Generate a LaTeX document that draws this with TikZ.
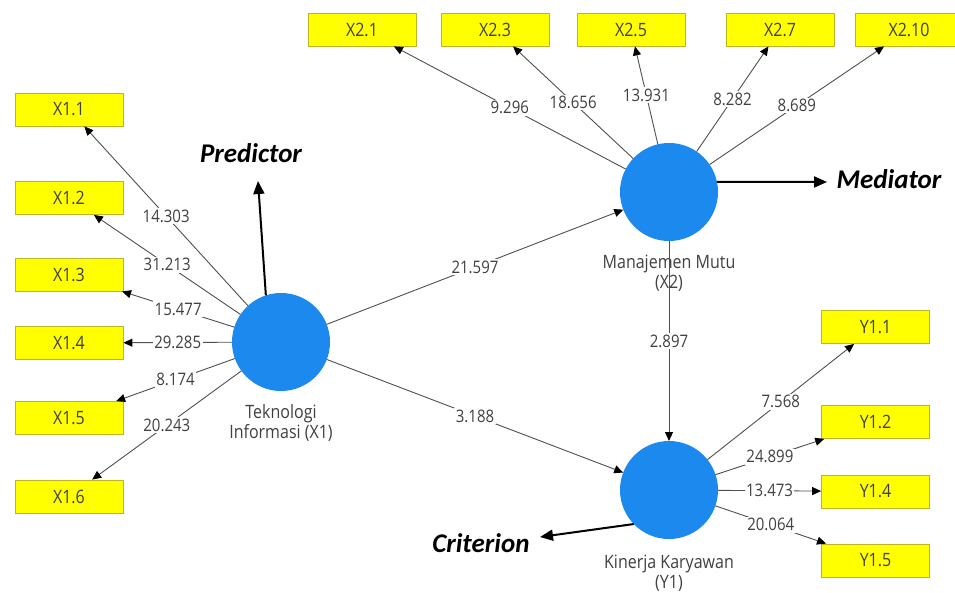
\documentclass[tikz,border=0pt]{standalone}
\usepackage{fontspec}
\setmainfont{Open Sans}
\newfontfamily\annfont{Carlito}
\usetikzlibrary{arrows.meta}

\definecolor{lvblue}{RGB}{28,137,238}
\definecolor{indyellow}{RGB}{255,255,0}
\definecolor{indborder}{RGB}{190,180,40}
\definecolor{txtgray}{RGB}{64,64,64}
\definecolor{linegray}{RGB}{80,80,80}

% slightly tall lettering
\newcommand{\tallt}[1]{\scalebox{1}[1.15]{#1}}

\begin{document}
\begin{tikzpicture}[x=1pt,y=-1pt,
  latent/.style={circle, fill=lvblue, minimum size=98pt, inner sep=0pt, outer sep=0pt},
  indicator/.style={rectangle, fill=indyellow, draw=indborder, line width=0.8pt,
    minimum width=108pt, minimum height=33pt, inner sep=0pt, text=txtgray,
    font=\fontsize{16}{18}\selectfont},
  loading/.style={draw=linegray, line width=0.9pt,
    -{Triangle[length=9pt,width=8pt,color=black]}},
  weight/.style={fill=white, inner sep=1.5pt, text=txtgray,
    font=\fontsize{15}{17}\selectfont},
  lvname/.style={text=txtgray, align=center, font=\fontsize{16}{20}\selectfont},
  role/.style={text=black, font=\annfont\fontsize{27}{30}\selectfont\bfseries\itshape},
  rolearrow/.style={draw=black, line width=2pt, -{Triangle[length=13pt,width=11pt]}}
]
\useasboundingbox (0,0) rectangle (955,593);
\clip (0,0) rectangle (955,593);
\fill[white] (0,0) rectangle (955,593);

% latent variables
\node[latent] (x1) at (281,342) {};
\node[latent] (x2) at (669,192) {};
\node[latent] (y1) at (669,490) {};

\node[lvname] (x1name) at (281,423) {\tallt{Teknologi}\\\tallt{Informasi (X1)}};
\node[lvname] (x2name) at (669,273) {\tallt{Manajemen Mutu}\\\tallt{(X2)}};
\node[lvname] (y1name) at (669,573) {\tallt{Kinerja Karyawan}\\\tallt{(Y1)}};

% indicators of X1
\node[indicator] (x11) at (69,109.5) {\tallt{X1.1}};
\node[indicator] (x12) at (69,198) {\tallt{X1.2}};
\node[indicator] (x13) at (69,274.5) {\tallt{X1.3}};
\node[indicator] (x14) at (69,343) {\tallt{X1.4}};
\node[indicator] (x15) at (69,418) {\tallt{X1.5}};
\node[indicator] (x16) at (69,496.5) {\tallt{X1.6}};

% indicators of X2
\node[indicator] (x21) at (362,29.5) {\tallt{X2.1}};
\node[indicator] (x23) at (495,29.5) {\tallt{X2.3}};
\node[indicator] (x25) at (631,29.5) {\tallt{X2.5}};
\node[indicator] (x27) at (780,29.5) {\tallt{X2.7}};
\node[indicator] (x210) at (909,29.5) {\tallt{X2.10}};

% indicators of Y1
\node[indicator] (y11) at (875.5,327) {\tallt{Y1.1}};
\node[indicator] (y12) at (875.5,422) {\tallt{Y1.2}};
\node[indicator] (y14) at (875.5,491.5) {\tallt{Y1.4}};
\node[indicator] (y15) at (875.5,560.5) {\tallt{Y1.5}};

% outer loadings
\draw[loading] (x1) -- node[weight, midway] {\tallt{14.303}} (x11);
\draw[loading] (x1) -- node[weight, midway] {\tallt{31.213}} (x12);
\draw[loading] (x1) -- node[weight, midway] {\tallt{15.477}} (x13);
\draw[loading] (x1) -- node[weight, midway] {\tallt{29.285}} (x14);
\draw[loading] (x1) -- node[weight, midway] {\tallt{8.174}} (x15);
\draw[loading] (x1) -- node[weight, midway] {\tallt{20.243}} (x16);

\draw[loading] (x2) -- node[weight, midway] {\tallt{9.296}} (x21);
\draw[loading] (x2) -- node[weight, midway] {\tallt{18.656}} (x23);
\draw[loading] (x2) -- node[weight, midway] {\tallt{13.931}} (x25);
\draw[loading] (x2) -- node[weight, midway] {\tallt{8.282}} (x27);
\draw[loading] (x2) -- node[weight, midway] {\tallt{8.689}} (x210);

\draw[loading] (y1) -- node[weight, midway] {\tallt{7.568}} (y11);
\draw[loading] (y1) -- node[weight, midway] {\tallt{24.899}} (y12);
\draw[loading] (y1) -- node[weight, midway] {\tallt{13.473}} (y14);
\draw[loading] (y1) -- node[weight, midway] {\tallt{20.064}} (y15);

% structural paths
\draw[loading] (x1) -- node[weight, midway] {\tallt{21.597}} (x2);
\draw[loading] (x1) -- node[weight, midway] {\tallt{3.188}} (y1);
\draw[loading] (x2) -- node[weight, midway] {\tallt{2.897}} (y1);

% role annotations
\coordinate (predtip) at (258,181);
\draw[rolearrow] (x1.108) -- (predtip);
\node[role] (pred) at (251,153) {Predictor};

\coordinate (medtip) at (827,182);
\draw[rolearrow] (x2.12) -- (medtip);
\node[role, anchor=west] (med) at (833,179) {Mediator};

\coordinate (crittip) at (540,537);
\draw[rolearrow] (y1.224) -- (crittip);
\node[role, anchor=east] (crit) at (533,543) {Criterion};
\end{tikzpicture}
\end{document}
